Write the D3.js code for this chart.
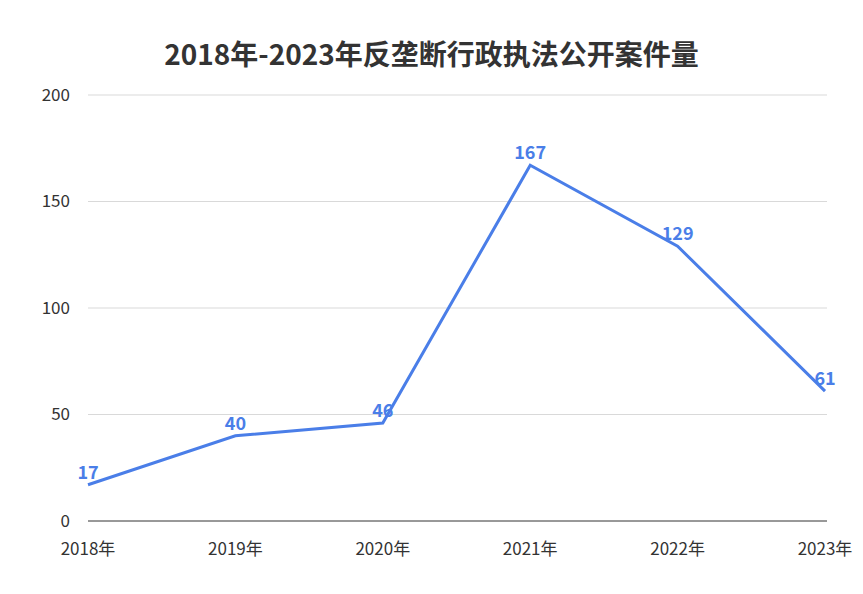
<!DOCTYPE html>
<html><head><meta charset="utf-8">
<script src="https://cdn.jsdelivr.net/npm/d3@7"></script>
<style>body{margin:0;background:#fff;font-family:"Noto Sans CJK SC","Noto Sans",sans-serif;}</style>
</head><body>
<div id="chart"></div>
<script>
// Data
const years = ["2018年", "2019年", "2020年", "2021年", "2022年", "2023年"];
const cases = [17, 40, 46, 167, 129, 61];
const yTicks = [0, 50, 100, 150, 200];

const width = 863, height = 594;
const margin = {left: 88, right: 38, top: 95, bottom: 73};

const svg = d3.select("#chart").append("svg")
    .attr("width", width)
    .attr("height", height);

const x = d3.scalePoint().domain(years).range([margin.left, width - margin.right]);
const y = d3.scaleLinear().domain([0, 200]).range([height - margin.bottom, margin.top]);

// Title
svg.append("text")
    .attr("x", width / 2).attr("y", 65)
    .attr("text-anchor", "middle")
    .attr("font-size", 28).attr("font-weight", "bold").attr("fill", "#333")
    .text("2018年-2023年反垄断行政执法公开案件量");

// Gridlines
svg.append("g").selectAll("line").data(yTicks.filter(d => d > 0)).join("line")
    .attr("x1", margin.left).attr("x2", width - margin.right + 2)
    .attr("y1", d => y(d)).attr("y2", d => y(d))
    .attr("stroke", "#d9d9d9");

// Y labels
svg.append("g").selectAll("text").data(yTicks).join("text")
    .attr("x", 70).attr("y", d => y(d)).attr("dy", "0.35em")
    .attr("text-anchor", "end").attr("font-size", 17).attr("fill", "#333")
    .text(d => d);

// X axis
svg.append("line")
    .attr("x1", margin.left).attr("x2", width - margin.right + 2)
    .attr("y1", y(0)).attr("y2", y(0))
    .attr("stroke", "#333");
svg.append("g").selectAll("text").data(years).join("text")
    .attr("x", d => x(d)).attr("y", y(0) + 34)
    .attr("text-anchor", "middle").attr("font-size", 17).attr("fill", "#333")
    .text(d => d);

// Line
const line = d3.line().x((d, i) => x(years[i])).y(d => y(d));
svg.append("path").datum(cases)
    .attr("d", line).attr("fill", "none")
    .attr("stroke", "#4a7ee8").attr("stroke-width", 3);

// Value labels
svg.append("g").selectAll("text").data(cases).join("text")
    .attr("x", (d, i) => x(years[i])).attr("y", d => y(d) - 6)
    .attr("text-anchor", "middle").attr("font-size", 18).attr("font-weight", "bold")
    .attr("fill", "#4a7ee8")
    .text(d => d);
</script>
</body></html>
